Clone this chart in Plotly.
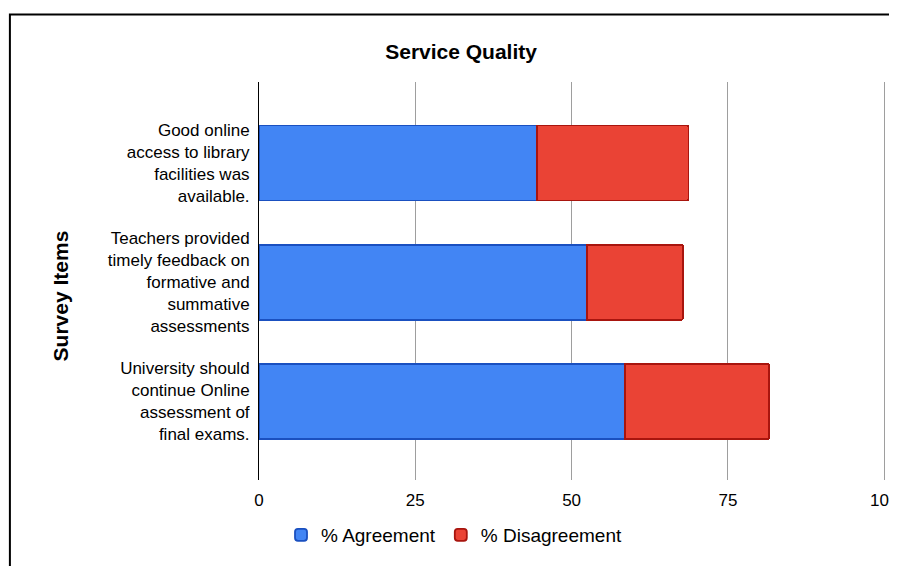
import plotly.graph_objects as go

# survey data
items = [
    "Good online<br>access to library<br>facilities was<br>available.",
    "Teachers provided<br>timely feedback on<br>formative and<br>summative<br>assessments",
    "University should<br>continue Online<br>assessment of<br>final exams.",
]
agreement = [44.5, 52.5, 58.5]
disagreement = [24.2, 15.3, 23.1]
x_ticks = [0, 25, 50, 75, 100]

BLUE, BLUE_EDGE = "#4285F4", "#1a50c0"
RED, RED_EDGE = "#EA4335", "#a8150e"
FONT = "Arial, Liberation Sans, sans-serif"

# page has an 8px body margin, so work in page pixels and shift
OFF = 8
W, H = 897, 566
X_MAX = 100.6  # a little past 100 so the last grid line is kept
# plot area in page pixels: x 259..(884 + overshoot), y 82..480
unit = (884 - 259) / 100
right_px = 884 + (X_MAX - 100) * unit
L, T = 259 - OFF, 82 - OFF
R = W - (right_px - OFF)
B = H - (480 - OFF)
pw, ph = W - L - R, H - T - B


def px(x):
    return (x - OFF - L) / pw


def py(y):
    return (H - B - (y - OFF)) / ph


fig = go.Figure()
fig.add_trace(go.Bar(
    y=items, x=agreement, orientation="h", name="% Agreement", width=0.63,
    marker=dict(color=BLUE, line=dict(color=BLUE_EDGE, width=1.8)),
))
fig.add_trace(go.Bar(
    y=items, x=disagreement, orientation="h", name="% Disagreement", width=0.63,
    marker=dict(color=RED, line=dict(color=RED_EDGE, width=1.8)),
))

fig.update_layout(
    width=W, height=H,
    barmode="stack",
    barcornerradius=2,
    paper_bgcolor="white",
    plot_bgcolor="white",
    font=dict(family=FONT, size=17, color="#000000"),
    margin=dict(l=L, r=R, t=T, b=B, autoexpand=False),
    title=dict(text="<b>Service Quality</b>", x=px(461), xref="paper", xanchor="center",
               y=1 - (52 - OFF) / H, yref="container", yanchor="middle",
               font=dict(family=FONT, size=21, color="#000000")),
    xaxis=dict(range=[0, X_MAX], tickvals=x_ticks, showgrid=True, gridcolor="#9e9e9e",
               gridwidth=1, zeroline=False, showline=False, ticks="", ticklabelstandoff=8,
               tickfont=dict(size=17), fixedrange=True),
    yaxis=dict(type="category", categoryarray=items, range=[2.66, -0.68], showgrid=False,
               zeroline=False, showline=True, linecolor="#000000", linewidth=1,
               ticks="", ticklabelstandoff=5, tickfont=dict(size=17), automargin=False),
    showlegend=True,
    legend=dict(orientation="h", x=px(281), y=py(535), xanchor="left", yanchor="middle",
                font=dict(size=19), bgcolor="rgba(0,0,0,0)", traceorder="normal"),
    annotations=[dict(text="<b>Survey Items</b>", textangle=-90, x=px(47), y=py(296),
                      xref="paper", yref="paper", showarrow=False,
                      font=dict(family=FONT, size=21, color="#000000"))],
    shapes=[dict(type="rect", xref="paper", yref="paper",
                 x0=px(10), x1=px(940), y0=py(620), y1=py(14.5),
                 line=dict(color="#000000", width=2), fillcolor="rgba(0,0,0,0)")],
)

fig.write_html("out.html")
